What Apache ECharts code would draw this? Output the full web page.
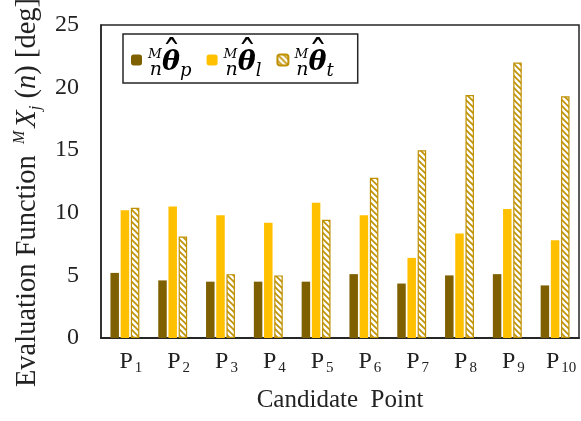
<!DOCTYPE html>
<html>
<head>
<meta charset="utf-8">
<script src="https://cdn.jsdelivr.net/npm/echarts@6/dist/echarts.min.js"></script>
<style>
  html, body { margin: 0; padding: 0; background: #fff; }
  #chart { width: 581px; height: 421px; }
</style>
</head>
<body>
<div id="chart"></div>
<script>
// data
const categories = ['1', '2', '3', '4', '5', '6', '7', '8', '9', '10']
const thetaP = [5.2, 4.6, 4.5, 4.5, 4.5, 5.1, 4.35, 5.0, 5.1, 4.2]
const thetaL = [10.2, 10.5, 9.8, 9.2, 10.8, 9.8, 6.4, 8.35, 10.3, 7.8]
const thetaT = [10.4, 8.1, 5.1, 5.0, 9.45, 12.8, 15.0, 19.4, 22.0, 19.3]
const yTicks = [0, 5, 10, 15, 20, 25]

const serif = 'Liberation Serif'
const mathFont = 'DejaVu Serif'

// hatch fill for the third series
function makeHatch() {
  const c = document.createElement('canvas')
  c.width = 6
  c.height = 6
  const ctx = c.getContext('2d')
  ctx.fillStyle = '#fff'
  ctx.fillRect(0, 0, 6, 6)
  ctx.strokeStyle = '#BF9000'
  ctx.lineWidth = 1.6
  ctx.beginPath()
  ctx.moveTo(-1, -1); ctx.lineTo(7, 7)
  ctx.moveTo(-4, 2); ctx.lineTo(4, 10)
  ctx.moveTo(2, -4); ctx.lineTo(10, 4)
  ctx.stroke()
  return c
}

const chart = echarts.init(document.getElementById('chart'))
chart.setOption({
  animation: false,
  grid: {
    left: 101,
    top: 25,
    right: 2,
    bottom: 83,
    outerBoundsMode: 'none',
    show: true,
    borderColor: '#262626',
    borderWidth: 1.5,
  },
  legend: {
    left: 123,
    top: 34,
    orient: 'horizontal',
    padding: [4, 24, 3, 8],
    borderColor: '#262626',
    borderWidth: 1.5,
    itemWidth: 11,
    itemHeight: 11,
    itemGap: 15,
    data: ['p', 'l', 't'],
    formatter: (name) => `{sup|M}{sub1|n}{hat|\u02C6}{th|\u03B8}{sub|${name}}`,
    textStyle: {
      rich: {
        sup: { fontFamily: mathFont, fontStyle: 'italic', fontSize: 13.5, verticalAlign: 'top', lineHeight: 15, padding: [7, 0, 0, 1], color: '#000' },
        sub1: { fontFamily: mathFont, fontStyle: 'italic', fontSize: 19, verticalAlign: 'bottom', lineHeight: 20, padding: [0, 0, 0, -12], color: '#000' },
        hat: { fontFamily: mathFont, fontSize: 38, verticalAlign: 'top', lineHeight: 30, padding: [-2, -19, 0, 0], color: '#000' },
        th: { fontFamily: mathFont, fontStyle: 'italic', fontWeight: 'bold', fontSize: 27, lineHeight: 40, padding: [6, 0, 0, 0], color: '#000' },
        sub: { fontFamily: mathFont, fontStyle: 'italic', fontSize: 18, verticalAlign: 'bottom', lineHeight: 22, color: '#000' },
      },
    },
  },
  xAxis: {
    type: 'category',
    data: categories,
    name: 'Candidate  Point',
    nameLocation: 'middle',
    nameGap: 50,
    nameTextStyle: { fontFamily: serif, fontSize: 25, color: '#222' },
    axisLine: { lineStyle: { color: '#262626', width: 2 } },
    axisTick: { show: false },
    axisLabel: {
      interval: 0,
      margin: 12,
      formatter: (v) => `{p|P}{s|${v}}`,
      rich: {
        p: { fontFamily: serif, fontSize: 24, color: '#222', verticalAlign: 'top', lineHeight: 26, padding: [0, 0, 0, 12] },
        s: { fontFamily: serif, fontSize: 15, color: '#222', verticalAlign: 'bottom', lineHeight: 26, padding: [0, 0, 0, 2] },
      },
    },
  },
  yAxis: {
    type: 'value',
    min: 0,
    max: 25,
    interval: 5,
    name: '{n|Evaluation Function }{sup|M}{x|X}{sub|j}{n| (}{i|n}{n|) [deg]}',
    nameLocation: 'middle',
    nameGap: 57,
    nameTextStyle: {
      padding: [0, 22, 0, 0],
      rich: {
        n: { fontFamily: serif, fontSize: 28.5, color: '#222', lineHeight: 32 },
        i: { fontFamily: serif, fontSize: 28.5, fontStyle: 'italic', color: '#222', lineHeight: 32 },
        x: { fontFamily: serif, fontSize: 28.5, fontStyle: 'italic', color: '#222', lineHeight: 32 },
        sup: { fontFamily: serif, fontSize: 16, fontStyle: 'italic', color: '#222', verticalAlign: 'top', lineHeight: 32, padding: [0, 3, 0, 4] },
        sub: { fontFamily: serif, fontSize: 17, fontStyle: 'italic', color: '#222', verticalAlign: 'bottom', lineHeight: 32 },
      },
    },
    axisLine: { show: true, lineStyle: { color: '#262626', width: 1.5 } },
    axisTick: { show: false },
    splitLine: { show: false },
    axisLabel: {
      margin: 22,
      fontFamily: serif,
      fontSize: 24,
      color: '#222',
      formatter: (v) => (yTicks.includes(v) ? String(v) : ''),
    },
  },
  series: [
    {
      name: 'p',
      type: 'bar',
      data: thetaP,
      barWidth: 8.5,
      barGap: '20%',
      itemStyle: { color: '#7F6000' },
    },
    {
      name: 'l',
      type: 'bar',
      data: thetaL,
      barWidth: 8.5,
      barGap: '20%',
      itemStyle: { color: '#FFC000' },
    },
    {
      name: 't',
      type: 'bar',
      data: thetaT,
      barWidth: 8.5,
      barGap: '20%',
      itemStyle: {
        color: { image: makeHatch(), repeat: 'repeat' },
        borderColor: '#BF9000',
        borderWidth: 1.2,
      },
    },
  ],
})
</script>
</body>
</html>
